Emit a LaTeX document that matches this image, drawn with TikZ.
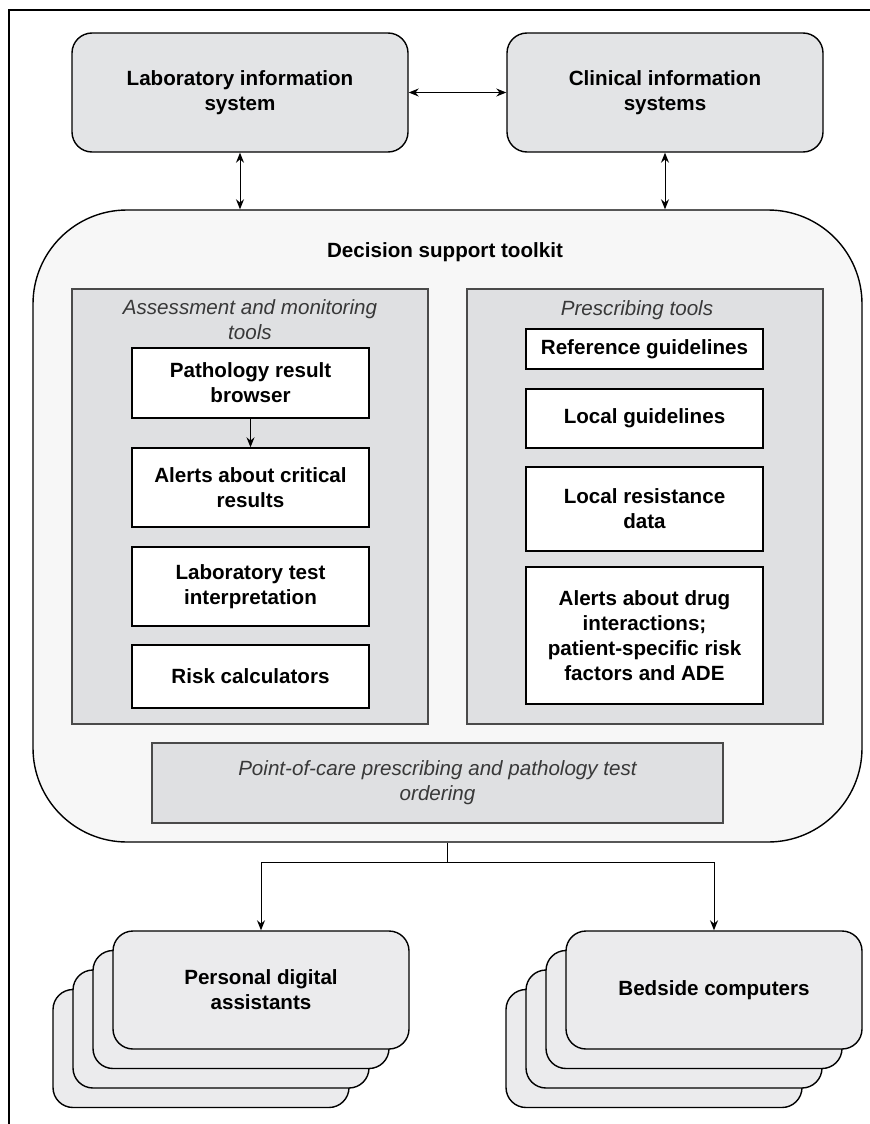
\documentclass[tikz,border=0pt]{standalone}
\usepackage{fontspec}
\setmainfont{Liberation Sans}
\usepackage{tikz}
\usetikzlibrary{arrows.meta}

\definecolor{sysgray}{HTML}{E3E4E6}
\definecolor{kitgray}{HTML}{F7F7F7}
\definecolor{panelgray}{HTML}{DFE0E2}
\definecolor{stackgray}{HTML}{EBEBED}
\definecolor{edgegray}{HTML}{4A4A4A}

\tikzset{
    boldtext/.style={font=\bfseries\fontsize{10.3}{12.5}\selectfont, align=center},
    slanttext/.style={font=\itshape\fontsize{10.3}{12.5}\selectfont, text=black!78, align=center},
    sysbox/.style={boldtext, draw, line width=0.7pt, fill=sysgray, rounded corners=10pt,
        minimum height=59.5pt, inner sep=0pt},
    kitbox/.style={draw, line width=0.7pt, fill=kitgray, rounded corners=47pt,
        minimum width=414.5pt, minimum height=316pt},
    panelbox/.style={draw=edgegray, line width=0.7pt, fill=panelgray,
        minimum width=178pt, minimum height=217.5pt},
    toolbox/.style={boldtext, draw, line width=0.7pt, fill=white,
        minimum width=118.5pt, inner sep=0pt},
    stackbox/.style={boldtext, draw, line width=0.7pt, fill=stackgray, rounded corners=10pt,
        minimum width=148pt, minimum height=59pt},
    link/.style={line width=0.5pt, -{Stealth[length=5pt,width=4pt]}},
    twoway/.style={line width=0.5pt, {Stealth[length=5pt,width=4pt]}-{Stealth[length=5pt,width=4pt]}}
}

\begin{document}
\begin{tikzpicture}[x=0.5pt, y=-0.5pt]
    \useasboundingbox (0,0) rectangle (870,1124);

    % Frame
    \draw[line width=0.8pt] (870,10) -- (9,10) -- (9,1124);

    % Information systems
    \node[sysbox, minimum width=168pt] (lis) at (240,92.5) {Laboratory information\\system};
    \node[sysbox, minimum width=158pt] (cis) at (665,92.5) {Clinical information\\systems};

    % Decision support toolkit
    \node[kitbox] (kit) at (447.5,526) {};
    \node[boldtext] (kittitle) at (445,252) {Decision support toolkit};

    % Panels
    \node[panelbox] (assess) at (250,506.5) {};
    \node[panelbox] (prescr) at (645,506.5) {};
    \node[slanttext] (assesstitle) at (250,320) {Assessment and monitoring\\tools};
    \node[slanttext] (prescrtitle) at (637,310) {Prescribing tools};

    % Assessment and monitoring tools
    \node[toolbox, minimum height=35pt] (browser) at (250.5,383) {Pathology result\\browser};
    \node[toolbox, minimum height=39.5pt] (critical) at (250.5,487.5) {Alerts about critical\\results};
    \node[toolbox, minimum height=39.5pt] (interp) at (250.5,586.5) {Laboratory test\\interpretation};
    \node[toolbox, minimum height=31.5pt] (riskcalc) at (250.5,676.5) {Risk calculators};

    % Prescribing tools
    \node[toolbox, minimum height=20pt] (refguide) at (644.5,349) {Reference guidelines};
    \node[toolbox, minimum height=29.5pt] (locguide) at (644.5,418.5) {Local guidelines};
    \node[toolbox, minimum height=42pt] (resist) at (644.5,509) {Local resistance\\data};
    \node[toolbox, minimum height=68.5pt] (drugalert) at (644.5,635.5) {Alerts about drug\\interactions;\\patient-specific risk\\factors and ADE};

    % Point-of-care ordering
    \node[draw=edgegray, line width=0.7pt, fill=panelgray, slanttext, minimum width=285.5pt,
        minimum height=40pt] (poc) at (437.5,783) {Point-of-care prescribing and pathology test\\ordering};

    % Devices, stacked
    \foreach \i in {3,2,1} {
        \node[stackbox] at ({261-20*\i},{990+19.5*\i}) {};
        \node[stackbox] at ({714-20*\i},{990+19.5*\i}) {};
    }
    \node[stackbox] (pda) at (261,990) {Personal digital\\assistants};
    \node[stackbox] (bedside) at (714,990) {Bedside computers};

    % Connectors
    \draw[twoway] (lis.east) -- (cis.west);
    \draw[twoway] (lis.south) -- (lis.south |- kit.north);
    \draw[twoway] (cis.south) -- (cis.south |- kit.north);
    \draw[link] (browser) -- (critical);
    \draw[line width=0.5pt] (kit.south) -- ++(0,20) coordinate (split);
    \draw[link] (split) -| (pda.north);
    \draw[link] (split) -| (bedside.north);
\end{tikzpicture}
\end{document}
